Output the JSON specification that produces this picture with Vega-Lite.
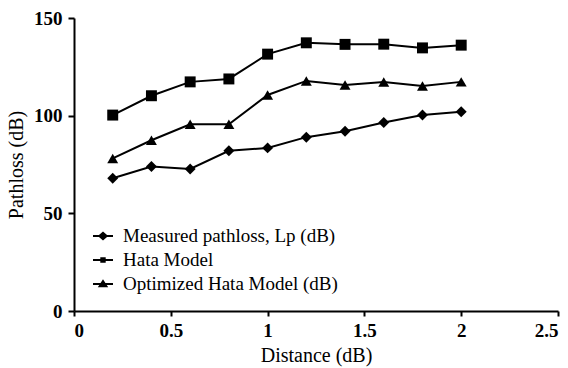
{
  "$schema": "https://vega.github.io/schema/vega-lite/v6.json",
  "width": 484,
  "height": 293,
  "autosize": {"type": "none"},
  "padding": {"left": 74, "top": 18, "right": 10, "bottom": 57},
  "background": "white",
  "config": {
    "view": {"stroke": null},
    "font": "Liberation Serif",
    "axis": {
      "domainColor": "black",
      "domainWidth": 2,
      "tickColor": "black",
      "tickWidth": 2,
      "grid": false,
      "labelFont": "Liberation Serif",
      "labelFontWeight": "bold",
      "labelFontSize": 19,
      "labelColor": "black",
      "titleFont": "Liberation Serif",
      "titleFontWeight": "normal",
      "titleFontSize": 20,
      "titleColor": "black"
    }
  },
  "data": {
    "values": [
      {"series": "Measured pathloss, Lp (dB)", "distance": 0.2, "pathloss": 68},
      {"series": "Measured pathloss, Lp (dB)", "distance": 0.4, "pathloss": 74},
      {"series": "Measured pathloss, Lp (dB)", "distance": 0.6, "pathloss": 72.7},
      {"series": "Measured pathloss, Lp (dB)", "distance": 0.8, "pathloss": 82},
      {"series": "Measured pathloss, Lp (dB)", "distance": 1.0, "pathloss": 83.5},
      {"series": "Measured pathloss, Lp (dB)", "distance": 1.2, "pathloss": 89},
      {"series": "Measured pathloss, Lp (dB)", "distance": 1.4, "pathloss": 92},
      {"series": "Measured pathloss, Lp (dB)", "distance": 1.6, "pathloss": 96.5},
      {"series": "Measured pathloss, Lp (dB)", "distance": 1.8, "pathloss": 100.3},
      {"series": "Measured pathloss, Lp (dB)", "distance": 2.0, "pathloss": 102},
      {"series": "Hata Model", "distance": 0.2, "pathloss": 100.3},
      {"series": "Hata Model", "distance": 0.4, "pathloss": 110.2},
      {"series": "Hata Model", "distance": 0.6, "pathloss": 117.3},
      {"series": "Hata Model", "distance": 0.8, "pathloss": 118.8},
      {"series": "Hata Model", "distance": 1.0, "pathloss": 131.5},
      {"series": "Hata Model", "distance": 1.2, "pathloss": 137.3},
      {"series": "Hata Model", "distance": 1.4, "pathloss": 136.5},
      {"series": "Hata Model", "distance": 1.6, "pathloss": 136.6},
      {"series": "Hata Model", "distance": 1.8, "pathloss": 134.7},
      {"series": "Hata Model", "distance": 2.0, "pathloss": 136.1},
      {"series": "Optimized Hata Model (dB)", "distance": 0.2, "pathloss": 78.1},
      {"series": "Optimized Hata Model (dB)", "distance": 0.4, "pathloss": 87.4},
      {"series": "Optimized Hata Model (dB)", "distance": 0.6, "pathloss": 95.6},
      {"series": "Optimized Hata Model (dB)", "distance": 0.8, "pathloss": 95.6},
      {"series": "Optimized Hata Model (dB)", "distance": 1.0, "pathloss": 110.6},
      {"series": "Optimized Hata Model (dB)", "distance": 1.2, "pathloss": 117.8},
      {"series": "Optimized Hata Model (dB)", "distance": 1.4, "pathloss": 115.7},
      {"series": "Optimized Hata Model (dB)", "distance": 1.6, "pathloss": 117.2},
      {"series": "Optimized Hata Model (dB)", "distance": 1.8, "pathloss": 115.2},
      {"series": "Optimized Hata Model (dB)", "distance": 2.0, "pathloss": 117.3}
    ]
  },
  "encoding": {
    "x": {
      "field": "distance",
      "type": "quantitative",
      "title": "Distance (dB)",
      "scale": {"domain": [0, 2.5], "nice": false},
      "axis": {
        "values": [0, 0.5, 1, 1.5, 2, 2.5],
        "format": "~g",
        "tickSize": 5,
        "labelPadding": 5,
        "titlePadding": 5
      }
    },
    "y": {
      "field": "pathloss",
      "type": "quantitative",
      "title": "Pathloss (dB)",
      "scale": {"domain": [0, 150], "nice": false},
      "axis": {
        "values": [0, 50, 100, 150],
        "tickSize": 6,
        "labelPadding": 6,
        "titlePadding": 7
      }
    }
  },
  "layer": [
    {
      "mark": {"type": "line", "color": "black", "strokeWidth": 2},
      "encoding": {"detail": {"field": "series"}}
    },
    {
      "mark": {"type": "point", "filled": true, "color": "black", "opacity": 1, "size": 120},
      "encoding": {
        "shape": {
          "field": "series",
          "type": "nominal",
          "scale": {
            "domain": ["Measured pathloss, Lp (dB)", "Hata Model", "Optimized Hata Model (dB)"],
            "range": ["diamond", "square", "triangle-up"]
          },
          "legend": null
        }
      }
    },
    {
      "description": "Legend keys: a short bar through each series marker",
      "mark": {"type": "point", "filled": true, "color": "black", "opacity": 0},
      "encoding": {
        "shape": {
          "field": "series",
          "type": "nominal",
          "scale": {
            "domain": ["Measured pathloss, Lp (dB)", "Hata Model", "Optimized Hata Model (dB)"],
            "range": [
              "M-1,-0.1L1,-0.1L1,0.1L-1,0.1ZM0,-0.45L0.52,0L0,0.45L-0.52,0Z",
              "M-1,-0.1L1,-0.1L1,0.1L-1,0.1ZM-0.27,-0.27L0.27,-0.27L0.27,0.27L-0.27,0.27Z",
              "M-1,-0.1L1,-0.1L1,0.1L-1,0.1ZM0,-0.48L0.52,0.33L-0.52,0.33Z"
            ]
          },
          "legend": {
            "title": null,
            "orient": "none",
            "legendX": 19,
            "legendY": 208,
            "padding": 0,
            "symbolSize": 400,
            "symbolFillColor": "black",
            "symbolStrokeColor": "black",
            "symbolStrokeWidth": 0,
            "symbolOpacity": 1,
            "labelFont": "Liberation Serif",
            "labelFontSize": 19,
            "labelColor": "black",
            "labelLimit": 0,
            "labelOffset": 10,
            "rowPadding": 4
          }
        }
      }
    }
  ],
  "resolve": {"scale": {"shape": "independent"}, "legend": {"shape": "independent"}}
}
